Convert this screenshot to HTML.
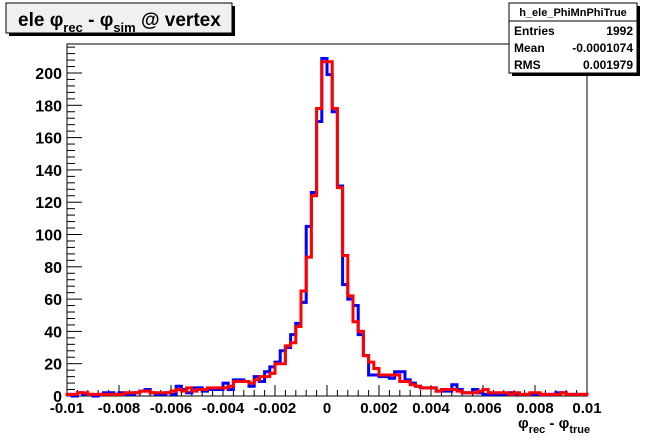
<!DOCTYPE html>
<html><head><meta charset="utf-8"><style>
body{margin:0;background:#fff;}
svg{display:block;font-family:"Liberation Sans",Arial,sans-serif;font-weight:bold;}
</style></head><body>
<svg width="653" height="441" viewBox="0 0 653 441" xmlns="http://www.w3.org/2000/svg">
<rect x="0" y="0" width="653" height="441" fill="#fff"/>
<g id="title">
<rect x="9" y="6" width="226" height="30" fill="#000"/>
<rect x="6" y="3" width="226" height="30" fill="#f0f0f0" stroke="#000" stroke-width="1"/>
<text x="18" y="26" font-size="19">ele φ<tspan font-size="13" dy="6">rec</tspan><tspan dy="-6"> - φ</tspan><tspan font-size="13" dy="6">sim</tspan><tspan dy="-6"> @ vertex</tspan></text>
</g>
<rect x="67" y="44" width="520" height="352" fill="none" stroke="#000" stroke-width="1"/>
<g id="axes"></g>
<g id="series"></g>
<g>
<rect x="512" y="6" width="128" height="70" fill="#000"/>
<rect x="509" y="3" width="128" height="70" fill="#fff" stroke="#000"/>
<line x1="509" y1="21" x2="637" y2="21" stroke="#000"/>
<text x="573" y="16" font-size="11" text-anchor="middle">h_ele_PhiMnPhiTrue</text>
<text x="514" y="35" font-size="12">Entries</text><text x="633" y="35" font-size="12" text-anchor="end">1992</text>
<text x="514" y="52" font-size="12">Mean</text><text x="633" y="52" font-size="12" text-anchor="end">-0.0001074</text>
<text x="514" y="69" font-size="12">RMS</text><text x="633" y="69" font-size="12" text-anchor="end">0.001979</text>
</g>
<text x="518" y="428" font-size="15">φ<tspan font-size="11" dy="5">rec</tspan><tspan dy="-5"> - φ</tspan><tspan font-size="11" dy="5">true</tspan></text>
</svg>
<script>
const binLow = -0.01;
const binWidth = 0.0002;
const blueCounts = [1,0,2,1,1,0,1,2,2,1,2,1,1,2,3,4,2,1,1,2,
1,6,4,2,5,5,3,4,4,4,8,4,10,10,9,6,12,9,15,
18,21,28,30,38,45,58,105,126,170,209,199,176,130,69,60,56,38,25,13,13,12,
12,11,15,15,10,8,6,5,5,5,3,3,3,7,4,2,2,4,2,1,1,1,1,1,2,1,1,1,1,1,1,1,1,2,2,1,1,1,1];
const redCounts = [1,1,2,2,1,1,1,1,1,1,1,2,2,2,3,3,2,2,2,2,
3,4,3,5,3,4,4,5,5,5,5,6,9,9,9,8,10,12,12,
14,20,20,31,33,43,65,86,124,178,207,207,178,129,87,62,46,40,25,21,17,13,
13,13,13,9,9,7,6,5,5,5,3,4,4,4,3,2,2,2,3,4,2,2,2,2,1,2,1,1,2,2,1,1,1,1,2,1,1,1,1];
const xTicks = [-0.01,-0.008,-0.006,-0.004,-0.002,0,0.002,0.004,0.006,0.008,0.01];
const xTickLabels = ["-0.01","-0.008","-0.006","-0.004","-0.002","0","0.002","0.004","0.006","0.008","0.01"];
const yTicks = [0,20,40,60,80,100,120,140,160,180,200];

const NS="http://www.w3.org/2000/svg";
const X0=67,X1=587,Y0=396,YS=323/200;
function xs(v){return X0+(v+0.01)/0.02*(X1-X0);}
function ys(v){return Y0-v*YS;}
function mk(tag,attrs,parent){const e=document.createElementNS(NS,tag);for(const k in attrs)e.setAttribute(k,attrs[k]);parent.appendChild(e);return e;}
const axes=document.getElementById('axes');
for(let i=0;i<=50;i++){
  const v=-0.01+i*0.0004; const x=xs(v); const major=i%5===0;
  const t=mk('line',{x1:x,y1:Y0,x2:x,y2:Y0-(major?11:6),stroke:'#000'},axes);
  
  
}
xTicks.forEach((v,i)=>{
  const t=mk('text',{x:xs(v),y:413,'font-size':15,'text-anchor':'middle'},axes);
  t.textContent=xTickLabels[i];
  
  
});
for(let v=0;v<=216;v+=4){
  const y=ys(v); const major=v%20===0;
  const t=mk('line',{x1:X0,y1:y,x2:X0+(major?15:8),y2:y,stroke:'#000'},axes);
  
  
}
yTicks.forEach(v=>{
  const t=mk('text',{x:62,y:ys(v)+6,'font-size':16,'text-anchor':'end'},axes);
  t.textContent=String(v);
  
  
});
function stepPath(counts){
  let d='M'+xs(binLow)+','+ys(0);
  counts.forEach((c,i)=>{
    const a=xs(binLow+i*binWidth),b=xs(binLow+(i+1)*binWidth);
    d+=' L'+a+','+ys(c)+' L'+b+','+ys(c);
  });
  d+=' L'+xs(binLow+counts.length*binWidth)+','+ys(0);
  return d;
}
const series=document.getElementById('series');
const pb=mk('path',{d:stepPath(blueCounts),fill:'none',stroke:'#0000ff','stroke-width':3},series);


const pr=mk('path',{d:stepPath(redCounts),fill:'none',stroke:'#ff0000','stroke-width':3},series);


</script>
</body></html>
